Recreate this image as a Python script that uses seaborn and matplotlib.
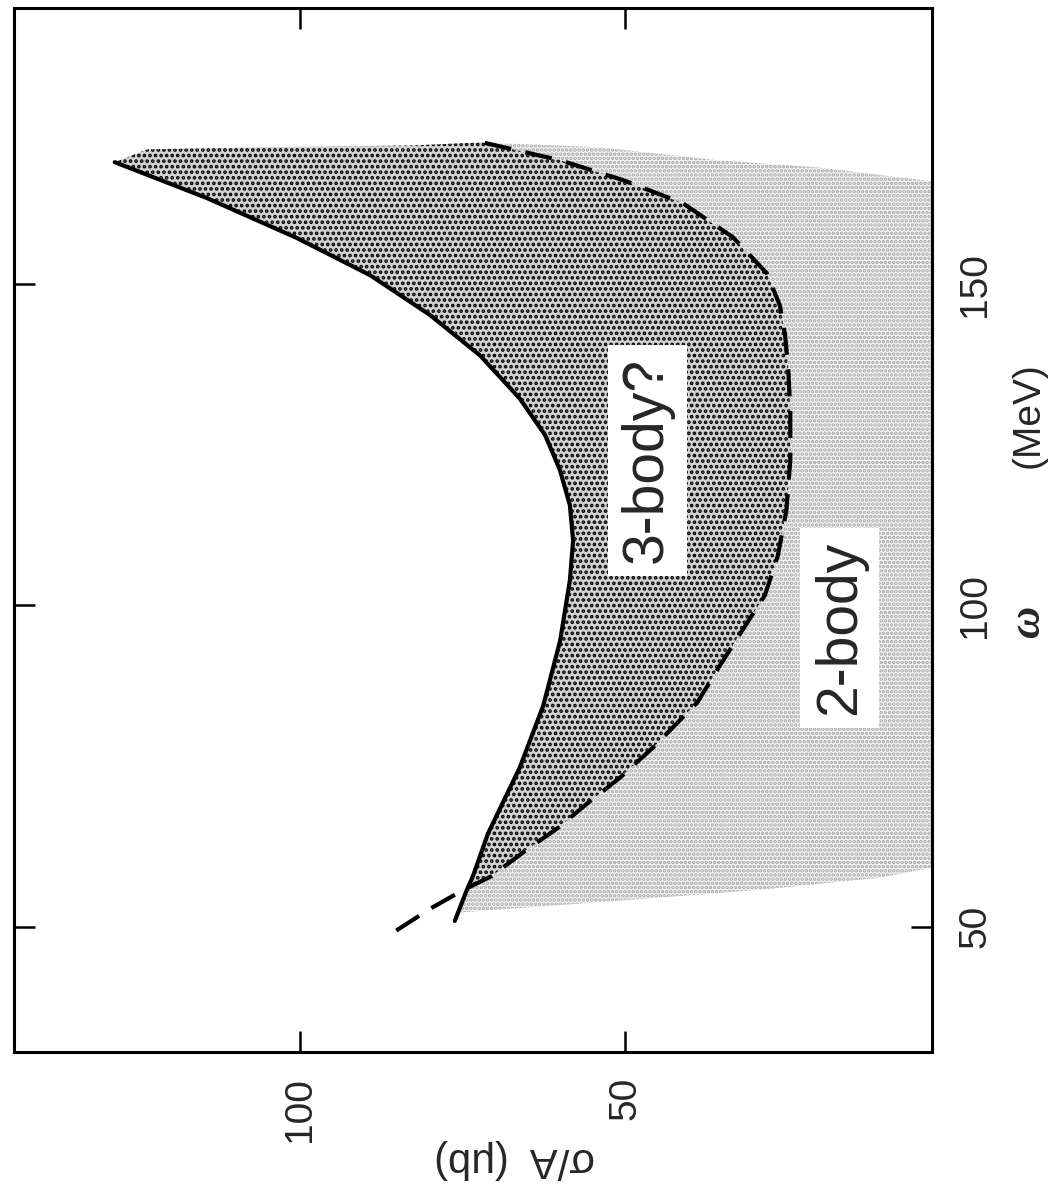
import matplotlib
matplotlib.use("Agg")
import matplotlib.pyplot as plt
import numpy as np
import pandas as pd
import seaborn as sns

# ---- data: sigma/A (μb) vs omega (MeV) ----
solid_omega = [50.9, 55.6, 57.9, 64.5, 74.8, 84.4, 94.5, 103.9, 110.1, 115.6, 121.0,
               126.5, 132.2, 138.9, 145.2, 151.4, 157.2, 163.4, 169.0]
solid_sigma = [76.2, 74.4, 73.4, 71.1, 66.2, 62.6, 60.0, 58.5, 58.0, 58.5, 60.0,
               62.3, 66.2, 72.3, 80.0, 89.2, 100.5, 114.3, 128.5]

dashed_omega = [49.4, 52.8, 55.6, 57.9, 61.8, 65.4, 69.3, 73.2, 77.9, 84.9, 90.7, 96.1,
                101.6, 107.8, 114.8, 122.6, 130.4, 136.6, 142.1, 146.7, 151.7, 157.3,
                162.6, 166.2, 169.3, 172.1]
dashed_sigma = [85.2, 80.0, 75.1, 70.5, 65.4, 60.3, 55.7, 50.8, 45.7, 38.9, 35.4, 32.0,
                28.5, 26.5, 25.2, 24.6, 24.6, 24.9, 25.4, 26.2, 28.2, 33.4,
                41.1, 50.3, 60.0, 72.0]

cross_sigma, cross_omega = 74.4, 56.0     # where the two curves meet

dark_top_sigma = [128.5, 123.5, 108.2, 82.6, 72.0]
dark_top_omega = [169.0, 171.0, 171.3, 171.6, 172.1]

light_lower_sigma = [75.6, 46.5, 28.8, 11.1, 2.3, 0.0]
light_lower_omega = [52.2, 54.4, 55.8, 57.6, 59.3, 59.6]
light_upper_sigma = [0.0, 4.2, 20.5, 35.8, 53.8, 72.0]
light_upper_omega = [165.8, 166.2, 168.2, 169.3, 171.3, 172.1]

sigma_ticks = [50, 100]
omega_ticks = [50, 100, 150]
sigma_range = (144, 2.8)
omega_range = (30.5, 193)

labels = {"three": ("3-body?", 46.6, 122.6), "two": ("2-body", 17.0, 96.5)}

# ---- style ----
sns.set_theme(style="white")
plt.rcParams["font.family"] = ["Liberation Sans", "DejaVu Sans"]
plt.rcParams["hatch.linewidth"] = 1.8

fig = plt.figure(figsize=(10.53, 11.91), dpi=100)
ax = fig.add_axes([0.0133, 0.1167, 0.8718, 0.8766])

solid = pd.DataFrame({"sigma": solid_sigma, "omega": solid_omega})
dashed = pd.DataFrame({"sigma": dashed_sigma, "omega": dashed_omega})

# regions
s_arr, o_arr = np.array(solid_sigma), np.array(solid_omega)
d_s, d_o = np.array(dashed_sigma), np.array(dashed_omega)
up_s, up_o = s_arr[o_arr > cross_omega], o_arr[o_arr > cross_omega]
dup_s, dup_o = d_s[d_o > cross_omega], d_o[d_o > cross_omega]
low_s, low_o = s_arr[o_arr < cross_omega], o_arr[o_arr < cross_omega]

light_x = np.concatenate([light_lower_sigma, light_upper_sigma, dup_s[::-1], [cross_sigma], low_s[::-1]])
light_y = np.concatenate([light_lower_omega, light_upper_omega, dup_o[::-1], [cross_omega], low_o[::-1]])
ax.fill(light_x, light_y, facecolor="#f4f4f4", edgecolor="#a8a8a8", hatch="....", linewidth=0, zorder=1)

dark_x = np.concatenate([[cross_sigma], up_s, dark_top_sigma[1:], dup_s[::-1]])
dark_y = np.concatenate([[cross_omega], up_o, dark_top_omega[1:], dup_o[::-1]])
ax.fill(dark_x, dark_y, facecolor="#d2d2d2", edgecolor="black", hatch="...", linewidth=0, zorder=2)

sns.lineplot(data=solid, x="sigma", y="omega", sort=False, estimator=None,
             color="black", linewidth=3.0, ax=ax, zorder=4)
sns.lineplot(data=dashed, x="sigma", y="omega", sort=False, estimator=None,
             color="black", linewidth=3.0, linestyle=(0, (6.5, 3.5)), ax=ax, zorder=4)

for key, (txt, sx, oy) in labels.items():
    ax.text(sx, oy, txt, rotation=90, ha="center", va="center", fontsize=41, zorder=5,
            bbox=dict(boxstyle="square,pad=0.22", facecolor="white", edgecolor="none"))

ax.set_xlim(*sigma_range)
ax.set_ylim(*omega_range)
ax.set_xticks(sigma_ticks)
ax.set_yticks(omega_ticks)
ax.tick_params(axis="both", which="major", direction="in", length=15, width=1.8,
               top=True, bottom=True, left=True, right=True, labelsize=28, color="black")
ax.tick_params(axis="x", labelbottom=True, labeltop=False, labelrotation=90, pad=18)
ax.tick_params(axis="y", labelleft=False, labelright=True, labelrotation=90, pad=18)
for lab in ax.get_yticklabels():
    lab.set_va("center")
for sp in ax.spines.values():
    sp.set_linewidth(2.2)
    sp.set_color("black")

ax.set_xlabel("σ/A  (μb)", fontsize=30, rotation=180)
ax.xaxis.set_label_coords(0.545, -0.083)
ax.set_ylabel("")
ax.text(1.105, 0.412, "ω", transform=ax.transAxes, rotation=90, ha="center", va="center",
        fontsize=32, fontstyle="italic", fontweight="bold", family=["Liberation Serif", "DejaVu Serif"])
ax.text(1.105, 0.61, "(MeV)", transform=ax.transAxes, rotation=90, ha="center", va="center",
        fontsize=28)

fig.savefig("out.png", dpi=100)
